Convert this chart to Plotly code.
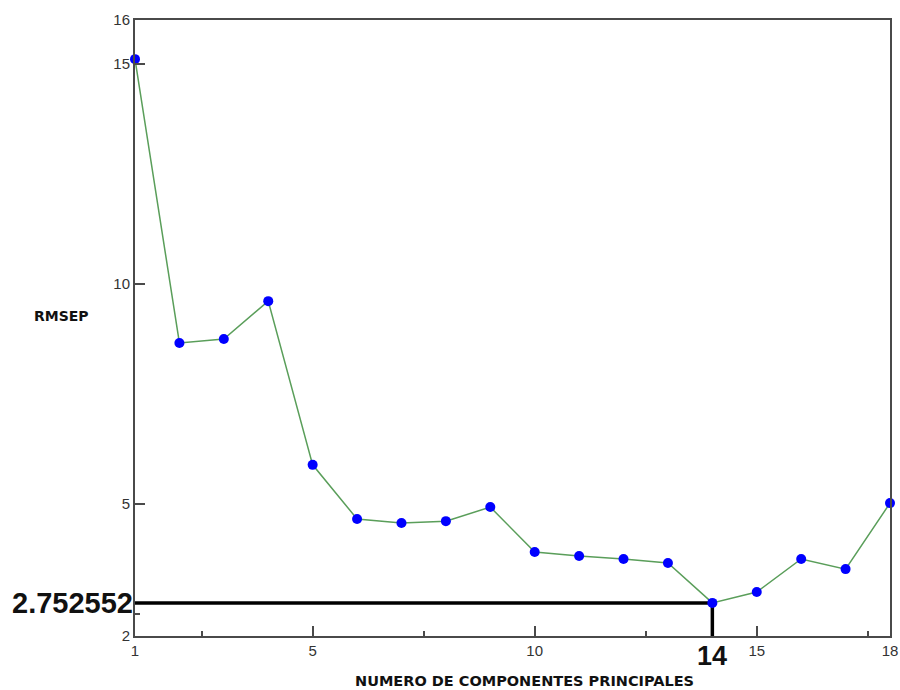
import plotly.graph_objects as go

# Number of principal components and RMSEP of each model
componentes = list(range(1, 19))
rmsep = [15.11, 8.66, 8.75, 9.61, 5.89, 4.66, 4.57, 4.61, 4.93,
         3.91, 3.82, 3.75, 3.66, 2.752552, 3.00, 3.75, 3.52, 5.02]

# Optimal model (minimum RMSEP)
optimo_x = 14
optimo_y = 2.752552

x_ticks = [1, 5, 10, 15, 18]
x_minor = [2.5, 7.5, 12.5, 17.5]
y_ticks = [2, 5, 10, 15, 16]
y_minor = [2.5]

x_range = [1, 18]
y_range = [2, 16]

fig = go.Figure()

fig.add_trace(go.Scatter(
    x=componentes, y=rmsep,
    mode="lines+markers",
    line=dict(color="#5a9e5a", width=1.5),
    marker=dict(color="#0000ff", size=10),
    cliponaxis=False,
    showlegend=False,
))

# Reference lines marking the minimum
fig.add_shape(type="line", xref="x", yref="y",
              x0=x_range[0], x1=optimo_x, y0=optimo_y, y1=optimo_y,
              line=dict(color="black", width=3.5), layer="below")
fig.add_shape(type="line", xref="x", yref="y",
              x0=optimo_x, x1=optimo_x, y0=y_range[0], y1=optimo_y,
              line=dict(color="black", width=3.5), layer="below")

fig.add_annotation(xref="paper", yref="y", x=0, y=optimo_y,
                   text="<b>%s</b>" % optimo_y, showarrow=False,
                   xanchor="right", yanchor="middle", xshift=0,
                   font=dict(family="Liberation Sans", size=29, color="#111"))
fig.add_annotation(xref="x", yref="paper", x=optimo_x, y=0,
                   text="<b>%d</b>" % optimo_x, showarrow=False,
                   xanchor="center", yanchor="top", yshift=-3,
                   font=dict(family="Liberation Sans", size=27, color="#111"))

fig.add_annotation(xref="paper", yref="paper", x=(524 - 135) / 755, y=0,
                   text="<b>NUMERO DE COMPONENTES PRINCIPALES</b>",
                   showarrow=False, xanchor="center", yanchor="middle",
                   yshift=-45,
                   font=dict(family="DejaVu Sans", size=14.5, color="#111"))
fig.add_annotation(xref="paper", yref="paper", x=0, y=(636 - 316) / 616,
                   text="<b>RMSEP</b>", showarrow=False,
                   xanchor="center", yanchor="middle", xshift=-74,
                   font=dict(family="DejaVu Sans", size=14, color="#111"))

axis_common = dict(
    showline=True, mirror=True, linecolor="#4a4a4a", linewidth=2,
    showgrid=False, zeroline=False, ticks="inside", tickcolor="#4a4a4a",
    tickwidth=1.5, ticklen=10, automargin=False,
    tickfont=dict(family="Liberation Sans", size=15, color="#333"),
)

fig.update_xaxes(range=x_range, tickvals=x_ticks,
                 ticktext=[str(v) for v in x_ticks],
                 minor=dict(tickvals=x_minor, ticks="inside", ticklen=5,
                            tickcolor="#4a4a4a", tickwidth=1.5),
                 **axis_common)
fig.update_yaxes(range=y_range, tickvals=y_ticks,
                 ticktext=[str(v) for v in y_ticks],
                 minor=dict(tickvals=y_minor, ticks="inside", ticklen=5,
                            tickcolor="#4a4a4a", tickwidth=1.5),
                 **axis_common)

fig.update_layout(
    width=900, height=690,
    margin=dict(l=135, r=10, t=20, b=54),
    plot_bgcolor="white", paper_bgcolor="white",
)

fig.write_html("out.html")
